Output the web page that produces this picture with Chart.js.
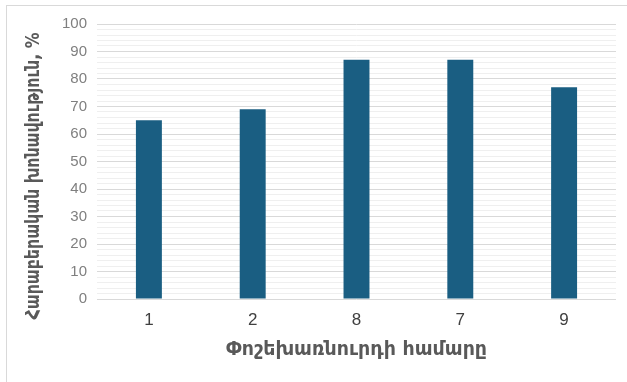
<!DOCTYPE html>
<html>
<head>
<meta charset="utf-8">
<script src="https://cdn.jsdelivr.net/npm/chart.js@4"></script>
<style>
  html, body { margin: 0; padding: 0; background: #fff; }
  #wrap { position: relative; width: 627px; height: 382px; overflow: hidden; }
  #frame { position: absolute; left: 6px; top: 5px; width: 700px; height: 500px;
           border-left: 1px solid #d9d9d9; border-top: 1px solid #d9d9d9; }
  canvas { position: absolute; left: 0; top: 0; }
</style>
</head>
<body>
<div id="wrap">
  <div id="frame"></div>
  <canvas id="chart" width="627" height="382"></canvas>
</div>
<script>
// data
const mixNumbers = ['1', '2', '8', '7', '9'];
const humidity = [65, 69, 87, 87, 77];
const yTitle = 'Հարաբերական խոնավություն, %';
const xTitle = 'Փոշեխառնուրդի համարը';

// y axis title drawn by hand so it can sit off-centre like the original
const yTitlePlugin = {
    id: 'yTitle',
    afterDraw(chart) {
        const c = chart.ctx;
        c.save();
        c.translate(34, 176);
        c.rotate(-Math.PI / 2);
        c.font = 'bold 19px "DejaVu Sans"';
        c.fillStyle = '#595959';
        c.textAlign = 'center';
        c.textBaseline = 'middle';
        // squeeze to the length the original title takes
        const w = c.measureText(yTitle).width;
        const target = 287;
        if (w > target) c.scale(target / w, 1);
        c.fillText(yTitle, 0, 0);
        c.restore();
    }
};

const ctx = document.getElementById('chart').getContext('2d');
new Chart(ctx, {
    type: 'bar',
    data: {
        labels: mixNumbers,
        datasets: [{
            data: humidity,
            backgroundColor: '#1a5e82',
            borderWidth: 0,
            categoryPercentage: 1,
            barPercentage: 0.25
        }]
    },
    options: {
        responsive: false,
        animation: false,
        layout: { padding: { left: 0, right: 11, top: 24, bottom: 0 } },
        plugins: {
            legend: { display: false },
            tooltip: { enabled: false }
        },
        scales: {
            x: {
                grid: { display: false },
                border: { display: false },
                ticks: {
                    color: '#404040',
                    font: { family: 'Liberation Sans', size: 17 },
                    padding: 3
                },
                title: {
                    display: true,
                    text: xTitle,
                    color: '#595959',
                    font: { family: 'DejaVu Sans', size: 19, weight: 'bold' },
                    padding: { top: 0, bottom: 21 }
                },
                afterFit(scale) { scale.height = 83; }
            },
            y: {
                min: 0,
                max: 100,
                border: { display: false },
                grid: {
                    drawTicks: false,
                    color: c => (c.tick && c.tick.value % 10 === 0) ? '#d9d9d9' : '#efefef',
                    lineWidth: 1
                },
                ticks: {
                    stepSize: 2,
                    autoSkip: false,
                    padding: 10,
                    color: '#7f7f7f',
                    font: { family: 'Liberation Sans', size: 15 },
                    callback: v => (v % 10 === 0 ? v : '')
                },
                afterFit(scale) { scale.width = 97; }
            }
        }
    },
    plugins: [yTitlePlugin]
});
</script>
</body>
</html>
